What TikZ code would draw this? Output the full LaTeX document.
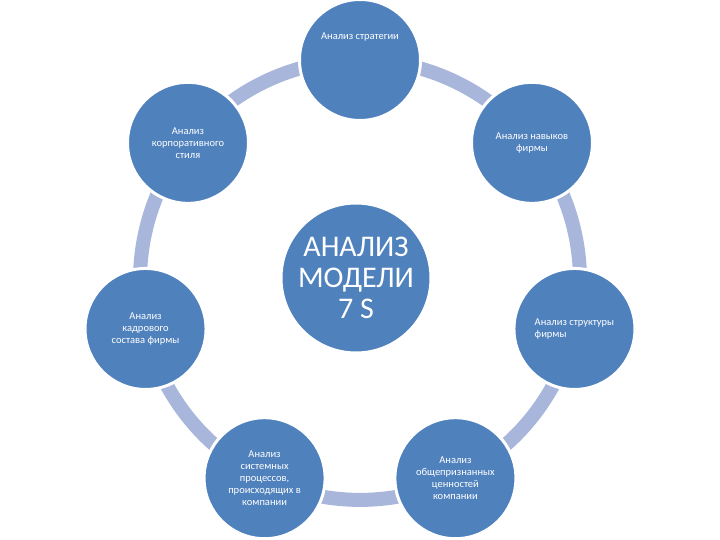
\documentclass[tikz,border=0pt]{standalone}
\usepackage{fontspec}
\setmainfont{Carlito}
\usetikzlibrary{positioning,backgrounds}
\definecolor{discblue}{RGB}{79,129,189}
\definecolor{ringblue}{RGB}{167,182,218}

\begin{document}
\begin{tikzpicture}[x=1pt, y=1pt,
  disc/.style={circle, fill=discblue, draw=white, line width=3pt, minimum size=121pt,
    inner sep=0pt, text=white, align=center, font=\fontsize{10.5}{12}\selectfont},
  hub/.style={disc, minimum size=150pt, font=\fontsize{30}{31}\selectfont},
  caption/.style={text=white, inner sep=0pt, font=\fontsize{10.5}{12}\selectfont},
  band/.style={ringblue, line width=14pt}]
  \useasboundingbox (-360,-260) rectangle (360,280);

  % seven discs on the ring, 360/7 apart
  \node[disc] (strat) at (90:220) {};
  \node[caption] (strattxt) at ([yshift=23]strat.center) {Анализ стратегии};
  \node[disc] (style) at (141.43:220) {Анализ\\корпоративного\\стиля};
  \node[disc] (staff) at (192.86:220) {Анализ\\кадрового\\состава фирмы};
  \node[disc] (systems) at (244.29:220) {Анализ\\системных\\процессов,\\происходящих в\\компании};
  \node[disc] (values) at (295.71:220) {Анализ\\общепризнанных\\ценностей\\компании};
  \node[disc, align=left] (structure) at (347.14:220) {Анализ структуры\\фирмы};
  \node[disc] (skills) at (38.57:220) {Анализ навыков\\фирмы};

  % centre
  \node[hub] (model) at (-4,2) {АНАЛИЗ\\МОДЕЛИ\\7 S};

  % ring pieces behind the discs
  \begin{pgfonlayer}{background}
    \foreach \a/\b in {strat/style, style/staff, staff/systems, systems/values,
                       values/structure, structure/skills, skills/strat} {
      \draw[band] (\a.center) to[bend right=25.71, looseness=0.896] (\b.center);
    }
  \end{pgfonlayer}
\end{tikzpicture}
\end{document}
